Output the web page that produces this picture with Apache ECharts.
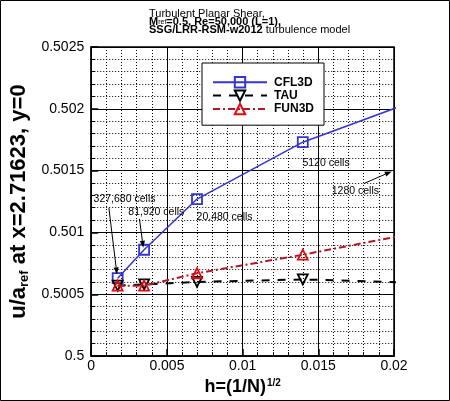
<!DOCTYPE html>
<html>
<head>
<meta charset="utf-8">
<script src="https://cdn.jsdelivr.net/npm/echarts@6/dist/echarts.min.js"></script>
<style>html,body{margin:0;padding:0;background:#fff;}#c{width:450px;height:401px;}</style>
</head>
<body>
<div id="c"></div>
<script>
// grid spacing h = (1/N)^(1/2) for 327,680 / 81,920 / 20,480 / 5120 / 1280 cells
const hValues = [0.001747, 0.003494, 0.006988, 0.013975, 0.027951];
const cfl3d = [0.50063, 0.50086, 0.50127, 0.50173, 0.50236];
const tau   = [0.50057, 0.50058, 0.50060, 0.50062, 0.50057];
const fun3d = [0.50057, 0.50057, 0.50067, 0.50082, 0.50115];
const seriesNames = ['CFL3D', 'TAU', 'FUN3D'];
const xTicks = [0, 0.005, 0.01, 0.015, 0.02];
const yTicks = [0.5, 0.5005, 0.501, 0.5015, 0.502, 0.5025];
const cellLabels = ['327,680 cells', '81,920 cells', '20,480 cells', '5120 cells', '1280 cells'];

// annotation placement (data coordinates)
const labelAt = [[0.0022, 0.501266], [0.0043, 0.501164], [0.00881, 0.501127], [0.01551, 0.501562], [0.01745, 0.501333]];
const arrowsAt = [
  [[0.001166, 0.501199], [0.00170, 0.500661]],
  [[0.003185, 0.501110], [0.00344, 0.500877]],
  [[0.01800, 0.501395], [0.01985, 0.501494]]
];

const FONT = 'Liberation Sans';
const pair = (ys) => hValues.map((h, i) => [h, ys[i]]);

const chart = echarts.init(document.getElementById('c'), null, {renderer: 'canvas'});

const axisCommon = {
  axisLine: {show: true, lineStyle: {color: '#000', width: 1.5}},
  axisTick: {show: true, inside: true, length: 7, lineStyle: {color: '#000', width: 1.5}},
  minorTick: {show: true, splitNumber: 5, length: 4, lineStyle: {color: '#000', width: 1}},
  splitLine: {show: true, lineStyle: {color: '#000', width: 1}},
  minorSplitLine: {show: true, lineStyle: {color: '#000', width: 1, type: [1, 2]}},
};

const option = {
  animation: false,
  backgroundColor: '#fff',
  textStyle: {fontFamily: FONT},
  title: {
    text: 'Turbulent Planar Shear,\n{b|M}{sub|ref}{b|=0.5, Re=50,000 (L=1),}\n{b|SSG/LRR-RSM-w2012} turbulence model',
    left: 149, top: 10, padding: 0,
    textStyle: {
      fontFamily: FONT, fontSize: 11, fontWeight: 'normal', color: '#000', lineHeight: 8,
      rich: {
        b: {fontFamily: FONT, fontSize: 11, fontWeight: 'bold', lineHeight: 8},
        sub: {fontFamily: FONT, fontSize: 7, verticalAlign: 'bottom', lineHeight: 8, padding: [4, 0, 0, 0]}
      }
    }
  },
  legend: {
    data: seriesNames,
    orient: 'vertical',
    left: 202, top: 63,
    padding: [13, 10, 10, 10],
    itemGap: 1,
    itemWidth: 54, itemHeight: 13,
    backgroundColor: '#fff',
    borderColor: '#000', borderWidth: 1,
    textStyle: {fontFamily: FONT, fontSize: 12, fontWeight: 'bold', color: '#000', padding: [0, 0, 0, 2]}
  },
  grid: {left: 80, right: 56, top: 47, bottom: 44, show: true, borderColor: '#000', borderWidth: 1.5, backgroundColor: 'transparent'},
  xAxis: Object.assign({
    type: 'value', min: xTicks[0], max: xTicks[xTicks.length - 1], interval: xTicks[1] - xTicks[0],
    name: 'h=(1/N){sup|1/2}', nameLocation: 'middle', nameGap: 17,
    nameTextStyle: {fontFamily: FONT, fontSize: 18, fontWeight: 'bold', color: '#000',
      rich: {sup: {fontFamily: FONT, fontSize: 10, fontWeight: 'bold', verticalAlign: 'top', padding: [0, 0, 8, 1]}}},
    axisLabel: {fontFamily: FONT, fontSize: 14, color: '#000', margin: 3, formatter: (v) => String(+v.toFixed(4))}
  }, axisCommon),
  yAxis: Object.assign({
    type: 'value', min: yTicks[0], max: yTicks[yTicks.length - 1], interval: yTicks[1] - yTicks[0],
    name: 'u/a{sub|ref} at x=2.71623, y=0', nameLocation: 'middle', nameGap: 50,
    nameTextStyle: {fontFamily: FONT, fontSize: 22, fontWeight: 'bold', color: '#000',
      rich: {sub: {fontFamily: FONT, fontSize: 13, fontWeight: 'bold', verticalAlign: 'bottom', padding: [10, 0, 0, 0]}}},
    axisLabel: {fontFamily: FONT, fontSize: 14, color: '#000', margin: 7, formatter: (v) => String(+v.toFixed(4))}
  }, axisCommon),
  series: [
    {
      name: seriesNames[0], type: 'line', data: pair(cfl3d), clip: true,
      symbol: 'rect', symbolSize: 10,
      lineStyle: {color: '#3434d4', width: 1.5},
      itemStyle: {color: 'rgba(0,0,0,0)', borderColor: '#3434d4', borderWidth: 1.8},
      z: 3
    },
    {
      name: seriesNames[1], type: 'line', data: pair(tau), clip: true,
      symbol: 'triangle', symbolRotate: 180, symbolSize: 10,
      lineStyle: {color: '#000', width: 2, type: [8, 8]},
      itemStyle: {color: 'rgba(0,0,0,0)', borderColor: '#000', borderWidth: 1.8},
      z: 4
    },
    {
      name: seriesNames[2], type: 'line', data: pair(fun3d), clip: true,
      symbol: 'triangle', symbolSize: 10,
      lineStyle: {color: '#b01828', width: 2, type: [7, 3, 2, 3]},
      itemStyle: {color: 'rgba(0,0,0,0)', borderColor: '#e00a10', borderWidth: 1.8},
      z: 5
    }
  ]
};
chart.setOption(option);

function buildGraphics() {
  const els = [];
  els.push({type: 'rect', shape: {x: 0.5, y: 0.5, width: 449, height: 400}, style: {fill: 'none', stroke: '#000', lineWidth: 1}, silent: true, z: 100});
  cellLabels.forEach((t, i) => {
    const p = chart.convertToPixel({gridIndex: 0}, labelAt[i]);
    els.push({type: 'text', x: p[0], y: p[1], z: 50,
      style: {text: t, fontFamily: FONT, fontSize: 10.5, fill: '#000', align: 'center', verticalAlign: 'middle'}});
  });
  arrowsAt.forEach((a) => {
    const p0 = chart.convertToPixel({gridIndex: 0}, a[0]);
    const p1 = chart.convertToPixel({gridIndex: 0}, a[1]);
    const dx = p1[0] - p0[0], dy = p1[1] - p0[1];
    const L = Math.sqrt(dx * dx + dy * dy), ux = dx / L, uy = dy / L;
    const hl = 7, hw = 2.6;
    const bx = p1[0] - ux * hl, by = p1[1] - uy * hl;
    els.push({type: 'line', z: 50, shape: {x1: p0[0], y1: p0[1], x2: bx, y2: by}, style: {stroke: '#000', lineWidth: 1}});
    els.push({type: 'polygon', z: 50, shape: {points: [[p1[0], p1[1]], [bx - uy * hw, by + ux * hw], [bx + uy * hw, by - ux * hw]]}, style: {fill: '#000'}});
  });
  chart.setOption({graphic: {elements: els}});
}
buildGraphics();
</script>
</body>
</html>
